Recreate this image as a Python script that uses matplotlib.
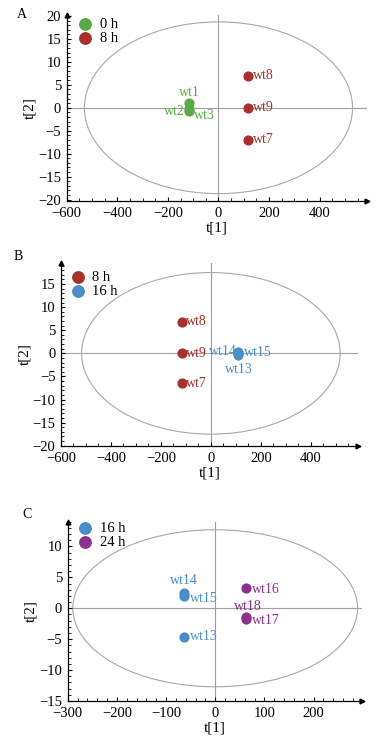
import numpy as np
import matplotlib
matplotlib.use('Agg')
from matplotlib import pyplot as plt
from matplotlib.patches import Ellipse
from matplotlib.ticker import MultipleLocator

plt.rcParams['font.family'] = ['Liberation Serif', 'DejaVu Serif']
plt.rcParams['font.size'] = 10

GREEN = '#5aab48'
RED = '#a8312c'
BLUE = '#4a8ec8'
PURPLE = '#8c318c'

# panel A: 0 h vs 8 h
a_groups = ['0 h', '8 h']
a_names = [['wt1', 'wt2', 'wt3'], ['wt8', 'wt9', 'wt7']]
a_t1 = [[-115, -115, -115], [115, 115, 115]]
a_t2 = [[1.0, -0.3, -0.8], [7.0, 0.0, -7.0]]

# panel B: 8 h vs 16 h
b_groups = ['8 h', '16 h']
b_names = [['wt8', 'wt9', 'wt7'], ['wt14', 'wt15', 'wt13']]
b_t1 = [[-115, -115, -115], [110, 110, 110]]
b_t2 = [[6.8, 0.0, -6.5], [0.3, 0.1, -0.4]]

# panel C: 16 h vs 24 h
c_groups = ['16 h', '24 h']
c_names = [['wt14', 'wt15', 'wt13'], ['wt16', 'wt18', 'wt17']]
c_t1 = [[-63, -63, -63], [63, 63, 63]]
c_t2 = [[2.4, 2.0, -4.6], [3.2, -1.4, -1.8]]

# label offsets (points) and alignment for each sample label
a_off = [[((0, 8), 'center'), ((-3, -2), 'right'), ((3, -3), 'left')],
         [((4, 0), 'left'), ((4, 0), 'left'), ((4, 0), 'left')]]
b_off = [[((3, 0), 'left'), ((3, 0), 'left'), ((3, 0), 'left')],
         [((-1, 0), 'right'), ((4, 0), 'left'), ((0, -10), 'center')]]
c_off = [[((0, 9), 'center'), ((4, -2), 'left'), ((4, 0), 'left')],
         [((4, -1), 'left'), ((1.5, 7.5), 'center'), ((4, -1), 'left')]]


def draw_panel(fig, rect, letter, groups, colors, names, t1, t2, offs,
               xlim, ylim, xmaj, xmin, ymaj, ymin, ell_w, ell_h, letter_pos, leg_anchor):
    ax = fig.add_axes(rect)
    ax.set_xlim(*xlim)
    ax.set_ylim(*ylim)
    for s in ['top', 'right']:
        ax.spines[s].set_visible(False)
    for s in ['left', 'bottom']:
        ax.spines[s].set_linewidth(0.9)
    ax.plot(1, 0, '>k', ms=3.5, transform=ax.transAxes, clip_on=False)
    ax.plot(0, 1, '^k', ms=3.5, transform=ax.transAxes, clip_on=False)

    ax.axhline(0, color='#a0a0a0', lw=0.8, zorder=1)
    ax.axvline(0, color='#a0a0a0', lw=0.8, zorder=1)
    ax.add_patch(Ellipse((0, 0), ell_w, ell_h, fill=False, ec='#a8a8a8', lw=0.8, zorder=1))

    ax.xaxis.set_major_locator(MultipleLocator(xmaj))
    ax.xaxis.set_minor_locator(MultipleLocator(xmin))
    ax.yaxis.set_major_locator(MultipleLocator(ymaj))
    ax.yaxis.set_minor_locator(MultipleLocator(ymin))
    ax.tick_params(which='major', direction='in', length=3, width=0.8, labelsize=10.5)
    ax.tick_params(axis='x', which='major', pad=4.5)
    ax.tick_params(axis='y', which='major', pad=4)
    ax.tick_params(which='minor', direction='in', length=2, width=0.6)

    for g in range(len(groups)):
        ax.scatter(t1[g], t2[g], s=40, color=colors[g], zorder=3, label=groups[g])
        for i in range(len(names[g])):
            (dx, dy), ha = offs[g][i]
            ax.annotate(names[g][i], (t1[g][i], t2[g][i]), xytext=(dx, dy),
                        textcoords='offset points', ha=ha, va='center',
                        color=colors[g], fontsize=10, zorder=2)

    ax.legend(loc='upper left', bbox_to_anchor=leg_anchor, frameon=False,
              handletextpad=0.0, labelspacing=0.05, borderpad=0.2,
              markerscale=1.3, fontsize=10.5)
    ax.set_xlabel('t[1]', labelpad=1, fontsize=11)
    ax.set_ylabel('t[2]', labelpad=1, fontsize=11)
    fig.text(letter_pos[0], letter_pos[1], letter, fontsize=10, ha='left', va='center')
    return ax


W, H = 381, 748
fig = plt.figure(figsize=(W / 100, H / 100), dpi=100)


def rect(l, r, t, b):
    return [l / W, 1 - b / H, (r - l) / W, (b - t) / H]


draw_panel(fig, rect(66.7, 366.7, 15, 201), 'A', a_groups, [GREEN, RED],
           a_names, a_t1, a_t2, a_off, (-600, 586), (-20.3, 20.2),
           200, 50, 5, 1, 1060, 37.4, (17 / W, 1 - 14 / H), (-0.02, 1.04))
draw_panel(fig, rect(61, 358.3, 263.3, 445.7), 'B', b_groups, [RED, BLUE],
           b_names, b_t1, b_t2, b_off, (-600, 590), (-20, 19.5),
           200, 50, 5, 1, 1035, 35, (14 / W, 1 - 257 / H), (-0.027, 1.015))
draw_panel(fig, rect(67.7, 361.7, 521.7, 701), 'C', c_groups, [BLUE, PURPLE],
           c_names, c_t1, c_t2, c_off, (-300, 298), (-15, 14),
           100, 20, 5, 1, 579, 25.4, (22 / W, 1 - 515 / H), (-0.025, 1.055))

fig.savefig('out.png', dpi=100)
